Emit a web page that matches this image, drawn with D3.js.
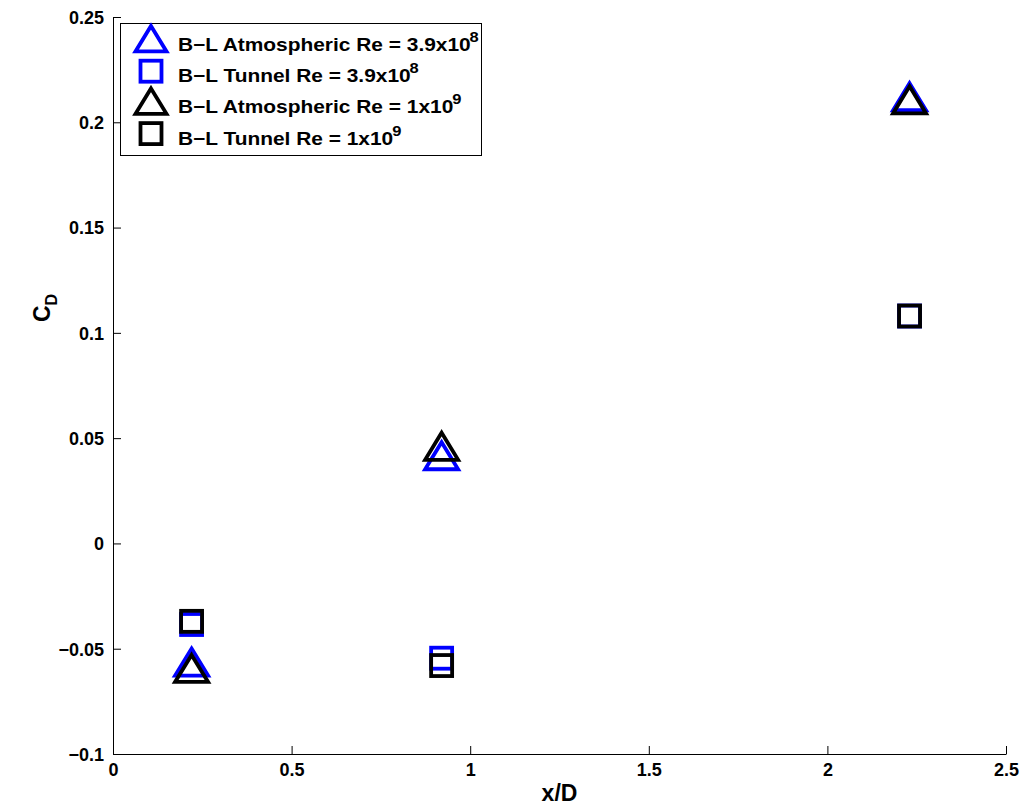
<!DOCTYPE html>
<html><head><meta charset="utf-8">
<script src="https://cdn.jsdelivr.net/npm/d3@7"></script>
<style>body{margin:0;background:#fff}svg{display:block}text{font-family:"Liberation Sans",Arial,sans-serif;font-weight:bold}</style>
</head><body><svg id="c" width="1024" height="807"></svg>
<script>
const xPos = [0.22, 0.92, 2.23];
const atmos39 = [-0.057, 0.041, 0.2115];
const tunnel39 = [-0.0385, -0.0545, 0.108];
const atmos1e9 = [-0.060, 0.0455, 0.210];
const tunnel1e9 = [-0.037, -0.058, 0.108];
const xTicks = [0, 0.5, 1, 1.5, 2, 2.5];
const yTicks = [-0.1, -0.05, 0, 0.05, 0.1, 0.15, 0.2, 0.25];
const seriesNames = ["B\u2212L Atmospheric Re = 3.9x10", "B\u2212L Tunnel Re = 3.9x10", "B\u2212L Atmospheric Re = 1x10", "B\u2212L Tunnel Re = 1x10"];
const seriesExp = ["8", "8", "9", "9"];
const seriesColor = ["#0000ff", "#0000ff", "#000000", "#000000"];
const seriesShape = ["tri", "sq", "tri", "sq"];
const seriesVals = [atmos39, tunnel39, atmos1e9, tunnel1e9];

const svg = d3.select("#c");
const L = 113, R = 1006, T = 17, B = 754;
const x = d3.scaleLinear().domain([0, 2.5]).range([L, R]);
const y = d3.scaleLinear().domain([-0.1, 0.25]).range([B, T]);

const font = '"Liberation Sans",Arial,sans-serif';
const gx = svg.append("g").attr("transform", `translate(0,${B})`)
  .call(d3.axisBottom(x).tickValues(xTicks).tickSizeInner(-8).tickSizeOuter(0).tickPadding(9).tickFormat(d => d));
const gy = svg.append("g").attr("transform", `translate(${L},0)`)
  .call(d3.axisLeft(y).tickValues(yTicks).tickSizeInner(-8).tickSizeOuter(0).tickPadding(9).tickFormat(d => d < 0 ? "\u2212" + Math.abs(d) : d));
[gx, gy].forEach(g => {
  g.select(".domain").attr("stroke", "#000").attr("stroke-width", 1);
  g.selectAll(".tick line").attr("stroke", "#000");
  g.selectAll(".tick text").attr("fill", "#000").style("font-size", "18px").style("font-weight", "bold").style("font-family", font);
});
gy.selectAll(".tick text").attr("dy", "0.35em");
gx.selectAll(".tick text").attr("y", 9).attr("dy", "0.72em");

svg.append("text").attr("x", (L + R) / 2).attr("y", 801).attr("text-anchor", "middle").style("font-size", "23px").text("x/D");
const yl = svg.append("text").attr("transform", "translate(50,308) rotate(-90)").attr("text-anchor", "middle").style("font-size", "23px");
yl.append("tspan").text("C");
yl.append("tspan").attr("dy", "7").style("font-size", "16px").text("D");

function marker(g, shape, cx, cy, color, s) {
  if (shape === "tri") {
    const h = s * 0.82, w = s;
    g.append("path").attr("d", `M${cx},${cy - h * 0.55} L${cx + w / 2},${cy + h * 0.45} L${cx - w / 2},${cy + h * 0.45} Z`)
      .attr("fill", "none").attr("stroke", color).attr("stroke-width", 3.8).attr("stroke-linejoin", "miter");
  } else {
    g.append("rect").attr("x", cx - s / 2).attr("y", cy - s / 2).attr("width", s).attr("height", s)
      .attr("fill", "none").attr("stroke", color).attr("stroke-width", 3.8);
  }
}

const pts = svg.append("g");
seriesVals.forEach((vals, i) => {
  vals.forEach((v, j) => {
    marker(pts, seriesShape[i], x(xPos[j]), y(v), seriesColor[i], seriesShape[i] === "tri" ? 33 : 21);
  });
});

// legend
const lg = svg.append("g");
lg.append("rect").attr("x", 120.5).attr("y", 23.5).attr("width", 361).attr("height", 132).attr("fill", "#fff").attr("stroke", "#000").attr("stroke-width", 1);
seriesNames.forEach((n, i) => {
  const base = 51 + i * 31.2;
  marker(lg, seriesShape[i], 151, base - 11, seriesColor[i], seriesShape[i] === "tri" ? 31 : 21);
  const t = lg.append("text").attr("transform", `translate(178,${base}) scale(1.1,1)`).attr("x", 0).attr("y", 0).style("font-size", "19px");
  t.append("tspan").text(n);
  t.append("tspan").attr("dy", "-9").attr("dx", "-1").style("font-size", "15px").text(seriesExp[i]);
});
</script></body></html>
